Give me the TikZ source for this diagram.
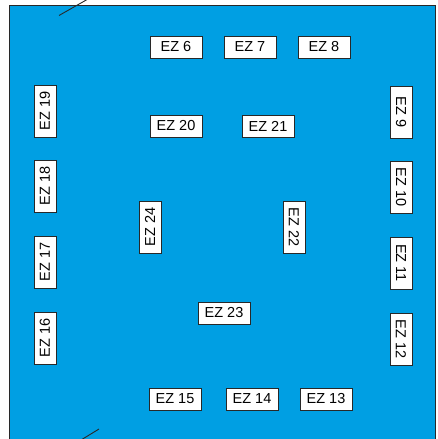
\documentclass[tikz,border=0pt]{standalone}
\usepackage{fontspec}
\setmainfont{Liberation Sans}
\definecolor{bg}{RGB}{0,159,227}
\definecolor{edge}{RGB}{40,40,40}
\begin{document}
\begin{tikzpicture}[x=1pt,y=-1pt,
  ez/.style={draw=edge,line width=1pt,fill=white,minimum width=52pt,minimum height=22pt,inner sep=0pt,font=\fontsize{14.5}{15}\selectfont},
  ezl/.style={ez,rotate=90},
  ezr/.style={ez,rotate=-90}]
\useasboundingbox (0,0) rectangle (437,439);
\begin{scope}
\clip (0,0) rectangle (437,439);
\draw[fill=bg,draw=edge,line width=1pt] (9.5,5.5) rectangle (435.5,450);
\end{scope}
\node[ez] (e6) at (176,47) {EZ 6};
\node[ez] (e7) at (250,47) {EZ 7};
\node[ez] (e8) at (324,47) {EZ 8};
\node[ez] (e20) at (176,126) {EZ 20};
\node[ez] (e21) at (268,126) {EZ 21};
\node[ez] (e23) at (224,313) {EZ 23};
\node[ez] (e15) at (175,399) {EZ 15};
\node[ez] (e14) at (252,399) {EZ 14};
\node[ez] (e13) at (326,399) {EZ 13};
\node[ezl] (e19) at (45,111) {EZ 19};
\node[ezl] (e18) at (45,186) {EZ 18};
\node[ezl] (e17) at (45,262) {EZ 17};
\node[ezl] (e16) at (45,338) {EZ 16};
\node[ezl] (e24) at (150,227) {EZ 24};
\node[ezr] (e22) at (294,227) {EZ 22};
\node[ezr] (e9) at (401,112) {EZ 9};
\node[ezr] (e10) at (401,187) {EZ 10};
\node[ezr] (e11) at (401,263) {EZ 11};
\node[ezr] (e12) at (401,339) {EZ 12};
\coordinate (t1) at (59,15.5);
\coordinate (t2) at (88,-1);
\coordinate (b1) at (81,440);
\coordinate (b2) at (99,429);
\draw[edge,line width=0.9pt] (t1) -- (t2);
\draw[edge,line width=0.9pt] (b1) -- (b2);
\end{tikzpicture}
\end{document}
